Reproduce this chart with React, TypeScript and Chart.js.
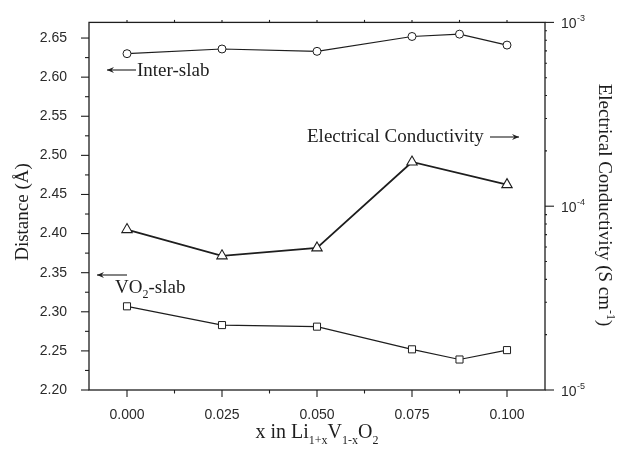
import React, { useEffect, useRef } from "react";
import { Chart, registerables } from "chart.js";

Chart.register(...registerables);

// ---- data ----
const xValues = [0, 0.025, 0.05, 0.075, 0.0875, 0.1];
const interSlab = [2.630, 2.636, 2.633, 2.652, 2.655, 2.641];
const vo2Slab = [2.307, 2.283, 2.281, 2.252, 2.239, 2.251];
const condX = [0, 0.025, 0.05, 0.075, 0.1];
const conductivity = [7.46e-5, 5.37e-5, 5.93e-5, 1.74e-4, 1.31e-4];

const xTicks = [0, 0.025, 0.05, 0.075, 0.1];
const yTicks = [2.2, 2.25, 2.3, 2.35, 2.4, 2.45, 2.5, 2.55, 2.6, 2.65];
const y2Exponents = [-3, -4, -5];

const SERIF = "'Liberation Serif', 'Times New Roman', serif";
const SANS = "'Liberation Sans', Arial, sans-serif";
const INK = "#1e1e1e";

type Part = { t: string; sub?: boolean; sup?: boolean };

function drawRich(ctx: CanvasRenderingContext2D, parts: Part[], x: number, y: number, size: number, family: string, align: "left" | "center") {
  const small = Math.round(size * 0.62);
  let total = 0;
  const widths = parts.map((p) => {
    ctx.font = `${p.sub || p.sup ? small : size}px ${family}`;
    const w = ctx.measureText(p.t).width;
    total += w;
    return w;
  });
  let cx = align === "center" ? x - total / 2 : x;
  ctx.textBaseline = "alphabetic";
  ctx.textAlign = "left";
  parts.forEach((p, i) => {
    ctx.font = `${p.sub || p.sup ? small : size}px ${family}`;
    const dy = p.sub ? size * 0.28 : p.sup ? -size * 0.42 : 0;
    ctx.fillText(p.t, cx, y + dy);
    cx += widths[i];
  });
}

function arrow(ctx: CanvasRenderingContext2D, x1: number, x2: number, y: number, headAtLeft: boolean) {
  ctx.beginPath();
  ctx.moveTo(x1, y);
  ctx.lineTo(x2, y);
  ctx.stroke();
  const hx = headAtLeft ? x1 : x2;
  const d = headAtLeft ? 1 : -1;
  ctx.beginPath();
  ctx.moveTo(hx + d * 7, y - 3);
  ctx.lineTo(hx, y);
  ctx.lineTo(hx + d * 7, y + 3);
  ctx.lineTo(hx + d * 4.5, y);
  ctx.closePath();
  ctx.fill();
}

const decorPlugin = {
  id: "decor",
  afterDraw(chart: any) {
    const ctx: CanvasRenderingContext2D = chart.ctx;
    const { left, right, top, bottom } = chart.chartArea;
    const xs = chart.scales.x;
    const ys = chart.scales.y;
    const y2 = chart.scales.y2;
    ctx.save();
    ctx.strokeStyle = INK;
    ctx.fillStyle = INK;
    ctx.lineWidth = 1.3;
    ctx.strokeRect(left, top, right - left, bottom - top);

    ctx.lineWidth = 1.1;
    // left ticks
    for (let i = 0; i <= 19; i++) {
      const v = 2.2 + i * 0.025;
      if (v > 2.67) break;
      const py = ys.getPixelForValue(v);
      const len = i % 2 === 0 ? 8 : 4;
      ctx.beginPath();
      ctx.moveTo(left, py);
      ctx.lineTo(left - len, py);
      ctx.stroke();
    }
    // bottom & top ticks
    for (let i = -1; i <= 9; i++) {
      const v = i * 0.0125;
      const px = xs.getPixelForValue(v);
      if (px < left || px > right) continue;
      const major = i % 2 === 0;
      ctx.beginPath();
      ctx.moveTo(px, bottom);
      ctx.lineTo(px, bottom + (major ? 7 : 3.5));
      ctx.stroke();
      ctx.beginPath();
      ctx.moveTo(px, top);
      ctx.lineTo(px, top - 2.5);
      ctx.stroke();
    }
    // right ticks (log)
    for (let e = -5; e <= -4; e++) {
      for (let m = 1; m <= 9; m++) {
        const v = m * Math.pow(10, e);
        const py = y2.getPixelForValue(v);
        const len = m === 1 ? 9 : 2;
        ctx.beginPath();
        ctx.moveTo(right, py);
        ctx.lineTo(right + len, py);
        ctx.stroke();
      }
    }
    {
      const py = y2.getPixelForValue(1e-3);
      ctx.beginPath();
      ctx.moveTo(right, py);
      ctx.lineTo(right + 9, py);
      ctx.stroke();
    }
    // right tick labels
    ctx.fillStyle = "#2a2a2a";
    y2Exponents.forEach((e) => {
      const py = y2.getPixelForValue(Math.pow(10, e));
      ctx.font = `14px ${SANS}`;
      ctx.textAlign = "left";
      ctx.textBaseline = "alphabetic";
      ctx.fillText("10", 561, py + 6);
      ctx.font = `9px ${SANS}`;
      ctx.fillText(String(e), 577, py - 1);
    });

    ctx.fillStyle = INK;
    // axis titles
    ctx.save();
    ctx.translate(23, 212);
    ctx.rotate(-Math.PI / 2);
    ctx.font = `19px ${SERIF}`;
    ctx.textAlign = "center";
    ctx.textBaseline = "middle";
    ctx.fillText("Distance (Å)", 0, 0);
    ctx.restore();

    ctx.save();
    ctx.translate(605, 205);
    ctx.rotate(Math.PI / 2);
    drawRich(ctx, [{ t: "Electrical Conductivity (S cm" }, { t: "-1", sup: true }, { t: ")" }], 0, 6, 19, SERIF, "center");
    ctx.restore();

    drawRich(
      ctx,
      [
        { t: "x in Li" },
        { t: "1+x", sub: true },
        { t: "V" },
        { t: "1-x", sub: true },
        { t: "O" },
        { t: "2", sub: true },
      ],
      (left + right) / 2,
      438,
      20,
      SERIF,
      "center"
    );

    // annotations
    ctx.lineWidth = 1.1;
    arrow(ctx, 107, 136, 70, true);
    drawRich(ctx, [{ t: "Inter-slab" }], 137, 76, 19, SERIF, "left");

    drawRich(ctx, [{ t: "Electrical Conductivity" }], 307, 142, 19, SERIF, "left");
    arrow(ctx, 490, 519, 137, false);

    arrow(ctx, 97, 127, 275, true);
    drawRich(ctx, [{ t: "VO" }, { t: "2", sub: true }, { t: "-slab" }], 115, 293, 19, SERIF, "left");

    ctx.restore();
  },
};

export default function App() {
  const ref = useRef<HTMLCanvasElement | null>(null);

  useEffect(() => {
    if (!ref.current) return;
    const chart = new Chart(ref.current, {
      type: "line",
      data: {
        datasets: [
          {
            label: "Inter-slab",
            data: xValues.map((x, i) => ({ x, y: interSlab[i] })),
            yAxisID: "y",
            borderColor: INK,
            borderWidth: 1.2,
            pointStyle: "circle",
            pointRadius: 4,
            pointBorderWidth: 1,
            pointBackgroundColor: "#ffffff",
            pointBorderColor: INK,
            tension: 0,
          },
          {
            label: "VO2-slab",
            data: xValues.map((x, i) => ({ x, y: vo2Slab[i] })),
            yAxisID: "y",
            borderColor: INK,
            borderWidth: 1.2,
            pointStyle: "rect",
            pointRadius: 5,
            pointBorderWidth: 1,
            pointBackgroundColor: "#ffffff",
            pointBorderColor: INK,
            tension: 0,
          },
          {
            label: "Electrical Conductivity",
            data: condX.map((x, i) => ({ x, y: conductivity[i] })),
            yAxisID: "y2",
            borderColor: INK,
            borderWidth: 1.8,
            pointStyle: "triangle",
            pointRadius: 6,
            pointBorderWidth: 1.1,
            pointBackgroundColor: "#ffffff",
            pointBorderColor: INK,
            tension: 0,
          },
        ],
      },
      options: {
        responsive: false,
        animation: false,
        devicePixelRatio: 1,
        layout: { padding: { top: 21, left: 0, right: 0, bottom: 0 } },
        plugins: {
          legend: { display: false },
          tooltip: { enabled: false },
        },
        scales: {
          x: {
            type: "linear",
            position: "bottom",
            min: -0.01,
            max: 0.11,
            grid: { display: false },
            border: { display: false },
            afterBuildTicks: (s: any) => {
              s.ticks = xTicks.map((v) => ({ value: v }));
            },
            afterFit: (s: any) => {
              s.height = 65;
            },
            ticks: {
              padding: 9,
              color: "#2a2a2a",
              font: { family: SANS, size: 14 },
              maxRotation: 0,
              callback: (v: any) => Number(v).toFixed(3),
            },
          },
          y: {
            type: "linear",
            position: "left",
            min: 2.2,
            max: 2.67,
            grid: { display: false },
            border: { display: false },
            afterBuildTicks: (s: any) => {
              s.ticks = yTicks.map((v) => ({ value: v }));
            },
            afterFit: (s: any) => {
              s.width = 89;
            },
            ticks: {
              padding: 14,
              color: "#2a2a2a",
              font: { family: SANS, size: 14 },
              callback: (v: any) => Number(v).toFixed(2),
            },
          },
          y2: {
            type: "logarithmic",
            position: "right",
            min: 1e-5,
            max: 1e-3,
            grid: { display: false },
            border: { display: false },
            ticks: { display: false },
            afterFit: (s: any) => {
              s.width = 80;
            },
          },
        },
      },
      plugins: [decorPlugin],
    } as any);
    return () => chart.destroy();
  }, []);

  return (
    <div style={{ position: "absolute", left: 0, top: 0, width: 625, height: 455, background: "#ffffff" }}>
      <canvas ref={ref} width={625} height={455} style={{ display: "block" }} />
    </div>
  );
}
